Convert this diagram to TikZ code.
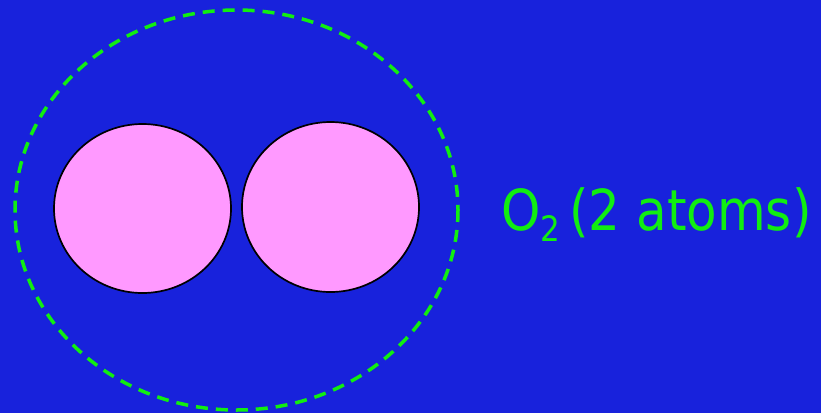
\documentclass[tikz,border=0pt]{standalone}
\usepackage{fontspec}
\setmainfont{DejaVu Sans}
\definecolor{bgblue}{HTML}{1822DC}
\definecolor{atompink}{HTML}{FF99FF}
\definecolor{lgreen}{HTML}{11EE11}
\begin{document}
\begin{tikzpicture}[x=1pt,y=-1pt,
  atom/.style={draw=black,line width=1.7pt,fill=atompink},
  molbound/.style={draw=lgreen,line width=3.5pt,dash pattern=on 12pt off 8pt}]
\fill[bgblue] (0,0) rectangle (821,413);
\useasboundingbox (0,0) rectangle (821,413);
\path[molbound] (236.5,210) ellipse [x radius=221.5,y radius=200];
\path[atom] (142.5,208.5) ellipse [x radius=88.5,y radius=84.5];
\path[atom] (330.5,207) ellipse [x radius=88.5,y radius=85];
\node[anchor=base west,inner sep=0pt,text=lgreen,font=\fontsize{50}{60}\selectfont] (label) at (501,230) {\scalebox{1}[1.13]{O\raisebox{-0.2em}{\fontsize{31}{36}\selectfont 2}\hspace{0.18em}(2 atoms)}};
\end{tikzpicture}
\end{document}
